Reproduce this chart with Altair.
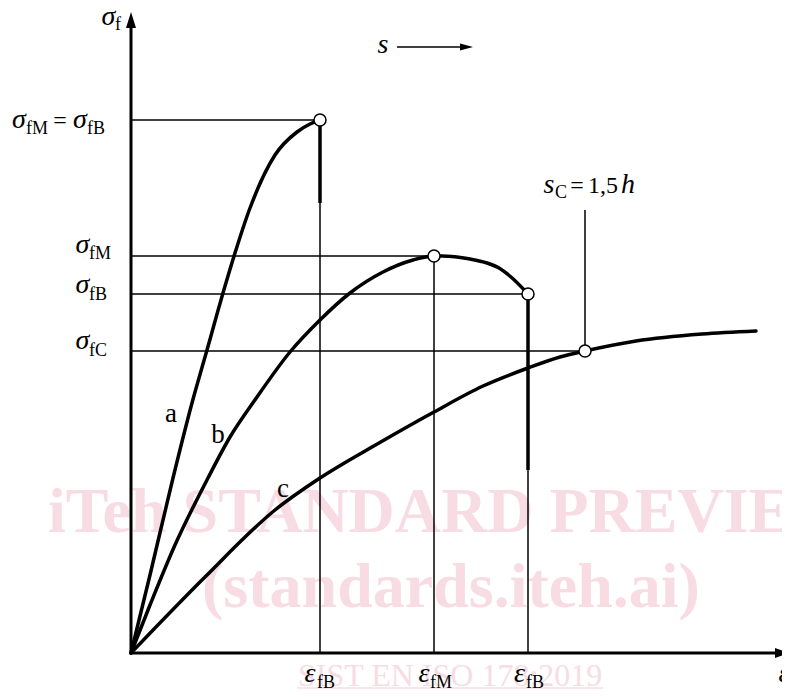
import altair as alt
import pandas as pd

# ---- data (strain units on x, stress units on y; origin of the diagram at 0,0) ----
eps_a = [0, 19, 42, 61, 76, 92, 104, 119, 144, 166, 179, 189]
sig_a = [0, 78, 175, 250, 303, 360, 400, 445, 498, 521, 529, 533]

eps_b = [0, 19, 44, 77, 99, 126, 159, 189, 219, 252, 282, 303, 311, 339, 356, 368, 380, 397]
sig_b = [0, 48, 108, 175, 216, 256, 301, 333, 360, 381, 393, 397, 397, 394, 390, 385, 376, 359]

eps_c = [0, 74, 144, 189, 248, 303, 352, 397, 429, 454, 505, 571, 625]
sig_c = [0, 76, 143, 175, 210, 241, 267, 285, 296, 302, 312, 319, 322]

# characteristic points
eps_fB_a, sig_fMB_a = 189, 533
eps_fM_b, sig_fM_b = 303, 397
eps_fB_b, sig_fB_b = 397, 359
eps_C, sig_fC = 454, 302
break_a_end = 450     # lower end of thick break line of curve a
break_b_end = 183     # lower end of thick break line of curve b
sC_top = 443          # top of the s_C leader line

curve_labels = ["a", "b", "c"]
curve_label_x = [40, 87, 152]
curve_label_y = [231, 210, 156]

XS = alt.Scale(domain=[-123, 651], nice=False, zero=False)
YS = alt.Scale(domain=[-36, 645], nice=False, zero=False)
FONT = "Liberation Serif"
WM = "#f8dce3"


def X(f="x"):
    return alt.X(f"{f}:Q", scale=XS, axis=None)


def Y(f="y"):
    return alt.Y(f"{f}:Q", scale=YS, axis=None)


# ---- watermark ----
wm_big = pd.DataFrame({"x": [-83, 71], "y": [121, 46],
                       "t": ["iTeh STANDARD PREVIEW", "(standards.iteh.ai)"]})
wm_small = pd.DataFrame({"x": [167], "y": [-33], "t": ["SIST EN ISO 178:2019"]})
wm_line = pd.DataFrame({"x": [166], "x2": [472], "y": [-35]})

wm1 = alt.Chart(wm_big).mark_text(font=FONT, fontWeight="bold", fontSize=64, align="left",
                                  baseline="alphabetic", color=WM).encode(x=X(), y=Y(), text="t:N")
wm2 = alt.Chart(wm_small).mark_text(font=FONT, fontSize=32, align="left",
                                    baseline="alphabetic", color=WM).encode(x=X(), y=Y(), text="t:N")
wm3 = alt.Chart(wm_line).mark_rule(color=WM, strokeWidth=1.5).encode(
    x=X(), x2="x2:Q", y=Y())

# ---- thin guide lines ----
h_lines = pd.DataFrame({
    "x": [0, 0, 0, 0],
    "x2": [eps_fB_a, eps_fM_b, eps_fB_b, eps_C],
    "y": [sig_fMB_a, sig_fM_b, sig_fB_b, sig_fC],
})
v_lines = pd.DataFrame({
    "x": [eps_fB_a, eps_fM_b, eps_fB_b, eps_C],
    "y": [0, 0, 0, sig_fC],
    "y2": [sig_fMB_a, sig_fM_b, sig_fB_b, sC_top],
})
hl = alt.Chart(h_lines).mark_rule(color="black", strokeWidth=1.5).encode(x=X(), x2="x2:Q", y=Y())
vl = alt.Chart(v_lines).mark_rule(color="black", strokeWidth=1.5).encode(x=X(), y=Y(), y2="y2:Q")

# ---- axes ----
axes_df = pd.DataFrame({"x": [0, 0], "x2": [0, 645], "y": [0, 0], "y2": [625, 0]})
axes = alt.Chart(axes_df).mark_rule(color="black", strokeWidth=3).encode(
    x=X(), x2="x2:Q", y=Y(), y2="y2:Q")
arrow_up = alt.Chart(pd.DataFrame({"x": [0], "y": [633]})).mark_point(
    shape="M-0.625,1L0,-1L0.625,1Z", size=256, filled=True, color="black", opacity=1
).encode(x=X(), y=Y())
arrow_right = alt.Chart(pd.DataFrame({"x": [651], "y": [0]})).mark_point(
    shape="M-1,-0.7L1,0L-1,0.7Z", size=196, filled=True, color="black", opacity=1
).encode(x=X(), y=Y())

# s arrow
s_line = alt.Chart(pd.DataFrame({"x": [266], "x2": [331], "y": [606]})).mark_rule(
    color="black", strokeWidth=1.5).encode(x=X(), x2="x2:Q", y=Y())
s_head = alt.Chart(pd.DataFrame({"x": [335.5], "y": [606]})).mark_point(
    shape="M-1,-0.55L1,0L-1,0.55Z", size=169, filled=True, color="black", opacity=1
).encode(x=X(), y=Y())

# ---- curves ----
curves = pd.concat([
    pd.DataFrame({"x": eps_a, "y": sig_a, "curve": "a"}),
    pd.DataFrame({"x": eps_b, "y": sig_b, "curve": "b"}),
    pd.DataFrame({"x": eps_c, "y": sig_c, "curve": "c"}),
])
lines = alt.Chart(curves).mark_line(interpolate="monotone", color="black", strokeWidth=3.5,
                                    strokeCap="round", strokeJoin="round").encode(
    x=X(), y=Y(), detail="curve:N")

# thick break lines
thick_df = pd.DataFrame({"x": [eps_fB_a, eps_fB_b], "y": [sig_fMB_a, sig_fB_b],
                         "y2": [break_a_end, break_b_end]})
thick = alt.Chart(thick_df).mark_rule(color="black", strokeWidth=3.5).encode(
    x=X(), y=Y(), y2="y2:Q")

# circles
pts_df = pd.DataFrame({"x": [eps_fB_a, eps_fM_b, eps_fB_b, eps_C],
                       "y": [sig_fMB_a, sig_fM_b, sig_fB_b, sig_fC]})
pts = alt.Chart(pts_df).mark_point(shape="circle", size=144, filled=True, fill="white",
                                   stroke="black", strokeWidth=1.5, opacity=1).encode(x=X(), y=Y())

# ---- texts ----
ital = pd.DataFrame({
    "x": [-22.5, -112, -51, -48.5, -48.5, -48.5,
          eps_fB_a - 10, eps_fM_b - 10, eps_fB_b - 8.5, 653, 252, 418, 497],
    "y": [628, sig_fMB_a - 8, sig_fMB_a - 8, sig_fM_b + 3, sig_fB_b + 1, sig_fC + 2,
          -29, -29, -29, -29, 600, 460, 460],
    "t": ["σ", "σ", "σ", "σ", "σ", "σ", "ε", "ε", "ε", "ε", "s", "s", "h"],
})
subs = pd.DataFrame({
    "x": [-16, -105, -44, -42, -42, -42, eps_fB_a - 3, eps_fM_b - 4, eps_fB_b - 2, 424],
    "y": [623, sig_fMB_a - 14, sig_fMB_a - 14, sig_fM_b - 3, sig_fB_b - 6, sig_fC - 5,
          -35, -35, -35, 455],
    "t": ["f", "fM", "fB", "fM", "fB", "fC", "fB", "fM", "fB", "C"],
})
upr = pd.DataFrame({
    "x": [-71, 446, 472],
    "y": [sig_fMB_a - 8, 460, 460],
    "t": ["=", "=", "1,5"],
})
lab = pd.DataFrame({"x": curve_label_x, "y": curve_label_y, "t": curve_labels})

t_ital = alt.Chart(ital).mark_text(font=FONT, fontStyle="italic", fontSize=28, align="center",
                                   baseline="alphabetic", color="black").encode(x=X(), y=Y(), text="t:N")
t_subs = alt.Chart(subs).mark_text(font=FONT, fontSize=18, align="left",
                                   baseline="alphabetic", color="black").encode(x=X(), y=Y(), text="t:N")
t_upr = alt.Chart(upr).mark_text(font=FONT, fontSize=24, align="center",
                                 baseline="alphabetic", color="black").encode(x=X(), y=Y(), text="t:N")
t_lab = alt.Chart(lab).mark_text(font=FONT, fontSize=27, align="center",
                                 baseline="alphabetic", color="black").encode(x=X(), y=Y(), text="t:N")

chart = alt.layer(
    wm1, wm2, wm3, hl, vl, axes, arrow_up, arrow_right, s_line, s_head,
    lines, thick, pts, t_ital, t_subs, t_upr, t_lab
).properties(
    width=774, height=681, padding=0,
    autosize=alt.AutoSizeParams(type="none"),
).configure_view(stroke=None)

chart.save("out.html", embed_options={"renderer": "svg", "actions": False})
